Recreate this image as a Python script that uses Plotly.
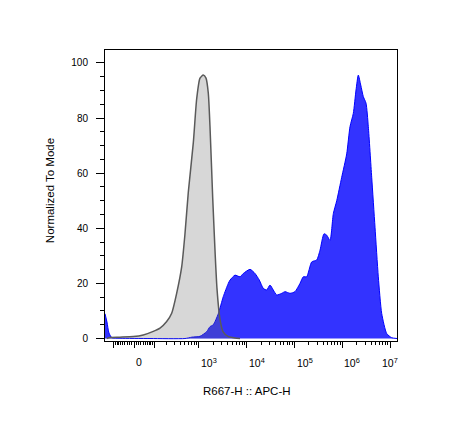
import numpy as np
import plotly.graph_objects as go

# ---- data (x = position on the biexponential display scale, y = % of mode) ----
grey_x = [1.071, 1.140, 1.349, 1.628, 1.837, 2.046, 2.186, 2.326, 2.431, 2.536, 2.640,
          2.709, 2.778, 2.883, 2.954, 3.023, 3.092, 3.149, 3.197, 3.232, 3.289, 3.337,
          3.379, 3.441, 3.504, 3.609, 3.755, 3.860]
grey_y = [0, 0.4, 0.5, 0.7, 1.3, 2.6, 3.8, 6.2, 9.2, 16.5, 26,
          38, 53, 71, 87, 94.5, 95.6, 94.5, 89, 77, 51, 32,
          18, 7, 2.5, 0.8, 0.2, 0]

blue_x = [1.036, 1.077, 1.119, 1.182, 1.349, 1.977, 2.709, 2.856, 3.023, 3.163, 3.232,
          3.301, 3.406, 3.510, 3.615, 3.651, 3.755, 3.860, 3.929, 4.069, 4.174, 4.264,
          4.347, 4.418, 4.487, 4.556, 4.628, 4.732, 4.801, 4.906, 5.010, 5.115, 5.184,
          5.255, 5.360, 5.464, 5.533, 5.617, 5.674, 5.743, 5.812, 5.883, 5.987, 6.092,
          6.161, 6.230, 6.287, 6.335, 6.385, 6.439, 6.496, 6.544, 6.615, 6.684, 6.753,
          6.824, 6.929, 7.033, 7.144]
blue_y = [9, 6, 2, 0.3, 0.1, 0, 0, 0.5, 0.8, 2.5, 4.3,
          5, 9, 15.2, 20, 21.2, 23, 22.4, 23.6, 25.1, 23.6, 21.2,
          18.2, 17.6, 19.4, 17.6, 15.8, 16.4, 17, 16.4, 17, 20, 22.4,
          22.4, 27.8, 28.5, 32, 38, 37.5, 35.6, 45.3, 50, 58.5, 67,
          76.9, 81.7, 90.2, 95.6, 92, 87.8, 85.4, 76.9, 58.5, 40.4, 22.4,
          9.1, 1.8, 0.3, 0]

x_label_values = [0, 1e3, 1e4, 1e5, 1e6, 1e7]
x_label_texts = ["0", "10<sup>3</sup>", "10<sup>4</sup>", "10<sup>5</sup>",
                 "10<sup>6</sup>", "10<sup>7</sup>"]
y_tick_values = [0, 20, 40, 60, 80, 100]

# ---- biexponential (arcsinh) display scale ----
C = 88.0
def disp(v):
    return np.arcsinh(np.asarray(v, dtype=float) / C) / np.log(10) + np.log10(C / 2)

major_raw = [-100, 0, 100, 1e3, 1e4, 1e5, 1e6, 1e7]
minor_raw = []
for k in range(1, 7):
    for m in range(2, 10):
        minor_raw.append(m * 10 ** k)
for m in range(1, 10):
    minor_raw.append(-m * 10)
    minor_raw.append(m * 10)
major_pos = [float(disp(v)) for v in major_raw]
minor_pos = [float(disp(v)) for v in minor_raw]

FONT = "Arial, Liberation Sans, sans-serif"

fig = go.Figure()
fig.add_trace(go.Scatter(
    x=blue_x, y=blue_y, mode="lines", fill="tozeroy",
    line=dict(color="#0000ff", width=1, shape="spline", smoothing=0.6),
    fillcolor="rgba(0,0,255,0.8)", hoverinfo="skip", showlegend=False))
fig.add_trace(go.Scatter(
    x=grey_x, y=grey_y, mode="lines", fill="tozeroy",
    line=dict(color="#5a5a5a", width=1.5, shape="spline", smoothing=0.6),
    fillcolor="rgba(100,100,100,0.26)", hoverinfo="skip", showlegend=False))

annotations = []
for v, t in zip(x_label_values, x_label_texts):
    annotations.append(dict(
        x=float(disp(v)), xref="x", y=0, yref="paper",
        xanchor="center" if v == 1e7 else "left", yanchor="top", yshift=-13,
        text=t, showarrow=False, font=dict(family=FONT, size=10.5, color="black")))
annotations.append(dict(
    x=0.485, xref="paper", y=0, yref="paper", yanchor="middle", yshift=-50,
    text="R667-H :: APC-H", showarrow=False,
    font=dict(family=FONT, size=11.5, color="black")))
annotations.append(dict(
    x=0, xref="paper", xshift=-55, y=0.515, yref="paper", xanchor="center",
    yanchor="middle", textangle=-90, text="Normalized To Mode", showarrow=False,
    font=dict(family=FONT, size=11.5, color="black")))

fig.update_layout(
    width=452, height=437,
    margin=dict(l=97, r=63, t=42, b=104, pad=0),
    paper_bgcolor="white", plot_bgcolor="white",
    annotations=annotations,
    xaxis=dict(
        range=[1.036, 7.144], showgrid=False, zeroline=False,
        showline=True, linecolor="black", linewidth=1, mirror=True,
        tickmode="array", tickvals=major_pos, ticks="outside", ticklen=6,
        tickcolor="black", tickwidth=1, showticklabels=False,
        minor=dict(tickmode="array", tickvals=minor_pos, ticks="outside",
                   ticklen=3, tickcolor="black", tickwidth=1)),
    yaxis=dict(
        range=[-0.9, 104.7], showgrid=False, zeroline=False,
        showline=True, linecolor="black", linewidth=1, mirror=True,
        tickmode="array", tickvals=y_tick_values, ticks="outside", ticklen=8,
        tickcolor="black", tickwidth=1, ticklabelstandoff=6,
        tickfont=dict(family=FONT, size=10, color="black"),
        minor=dict(tickmode="array", tickvals=list(range(0, 105, 5)),
                   ticks="outside", ticklen=4, tickcolor="black", tickwidth=1)),
)

fig.write_html("out.html")
